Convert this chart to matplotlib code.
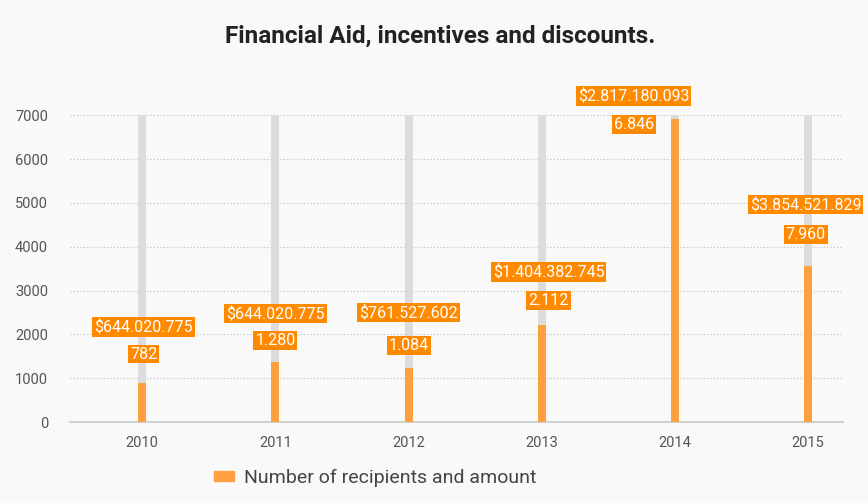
import matplotlib
matplotlib.use("Agg")
import matplotlib.pyplot as plt
from matplotlib.patches import Patch

# data
years = ["2010", "2011", "2012", "2013", "2014", "2015"]
bar_heights = [890, 1370, 1230, 2210, 6910, 3560]
recipients = ["782", "1.280", "1.084", "2.112", "6.846", "7.960"]
amounts = ["$644.020.775", "$644.020.775", "$761.527.602",
           "$1.404.382.745", "$2.817.180.093", "$3.854.521.829"]
y_max = 7000
y_ticks = [0, 1000, 2000, 3000, 4000, 5000, 6000, 7000]

# label placement (layout only)
amount_label_y = [2170, 2480, 2500, 3420, 7440, 4960]
count_label_y = [1550, 1860, 1750, 2770, 6790, 4280]
label_dx = [0.01, 0.0, 0.0, 0.05, -0.31, -0.02]

BG = "#f9f9f9"
ORANGE = "#ffa040"
LABEL_ORANGE = "#ff8a00"
GREY = "#dcdcdc"

plt.rcParams["font.family"] = ["Roboto", "DejaVu Sans"]

fig = plt.figure(figsize=(8.68, 5.03), dpi=100, facecolor=BG)
ax = fig.add_axes([0.081, 0.161, 0.890, 0.610])
ax.set_facecolor(BG)

x = list(range(len(years)))
ax.bar(x, [y_max] * len(x), width=0.06, color=GREY, zorder=2)
ax.bar(x, bar_heights, width=0.06, color=ORANGE, zorder=3)

box = dict(boxstyle="square,pad=0.12", fc=LABEL_ORANGE, ec="none")
for i in x:
    ax.text(i + label_dx[i], amount_label_y[i], amounts[i], ha="center",
            va="center", color="white", fontsize=11.5, bbox=box, zorder=5)
    ax.text(i + label_dx[i], count_label_y[i], recipients[i], ha="center",
            va="center", color="white", fontsize=11.5, bbox=box, zorder=5)

ax.set_xlim(-0.54, 5.26)
ax.set_ylim(0, y_max)
ax.set_xticks(x)
ax.set_xticklabels(years, fontsize=10.5, color="#555555")
ax.set_yticks(y_ticks)
ax.set_yticklabels([str(t) for t in y_ticks], fontsize=10.5, color="#555555")
ax.tick_params(length=0)
ax.tick_params(axis="x", pad=10)
ax.tick_params(axis="y", pad=16)
ax.grid(axis="y", linestyle=(0, (1, 2)), color="#bbbbbb", linewidth=0.8, zorder=1)
for side in ["top", "right", "left"]:
    ax.spines[side].set_visible(False)
ax.spines["bottom"].set_color("#c8c8c8")
ax.spines["bottom"].set_linewidth(1.2)

fig.text(0.507, 0.928, "Financial Aid, incentives and discounts.", ha="center",
         va="center", fontsize=17.5, fontweight="bold", color="#222222")

fig.legend(handles=[Patch(color=ORANGE, label="Number of recipients and amount")],
           loc="center", bbox_to_anchor=(0.432, 0.05), frameon=False,
           handlelength=1.05, handleheight=0.4, handletextpad=0.5,
           fontsize=14, labelcolor="#444444")

fig.savefig("out.png", dpi=100, facecolor=BG)
